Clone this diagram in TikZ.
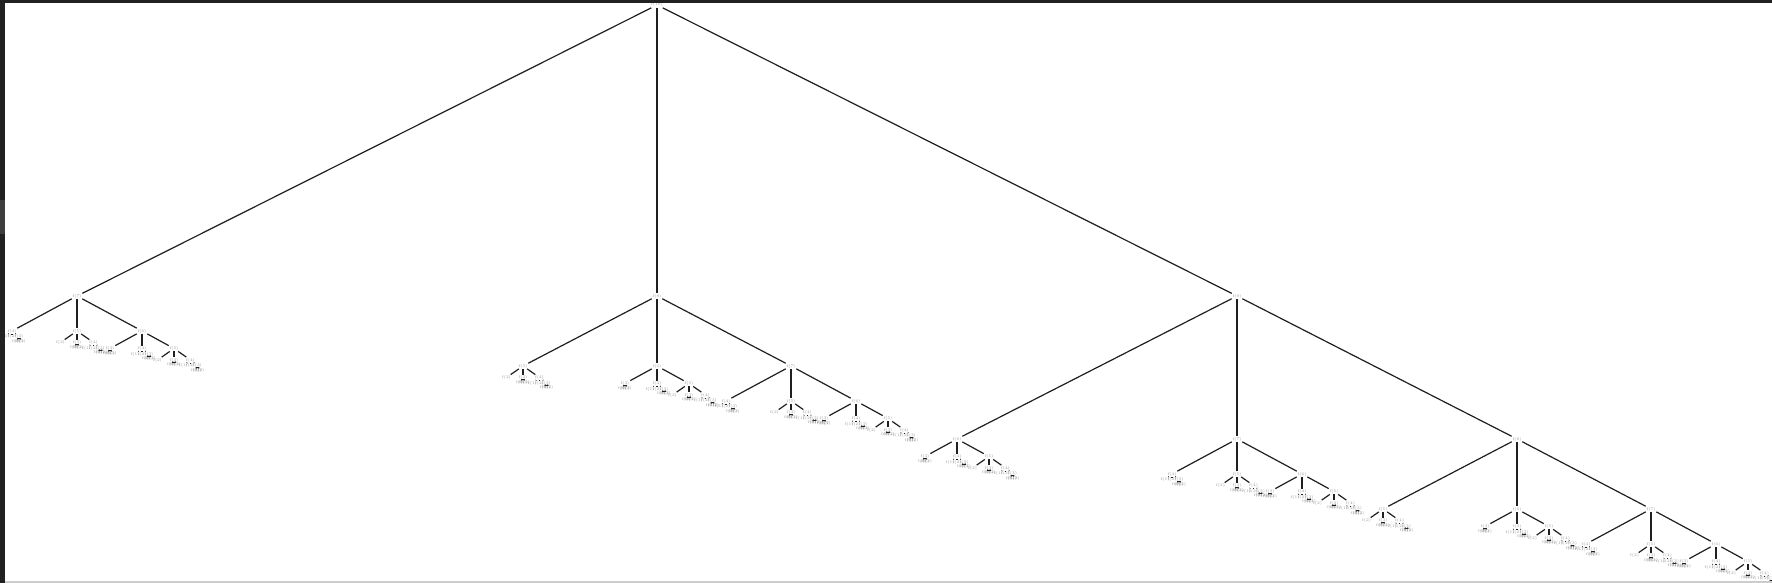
\documentclass[tikz,border=0pt]{standalone}
\tikzset{
  lbl/.style={inner sep=0.25pt, font=\fontsize{2}{2.2}\selectfont, text=black!40},
  edge/.style={line width=0.6pt, draw=black!88}
}
\def\spreadtab#1{\ifcase#1 0\or 0\or 0\or 2.5\or 7\or 16.5\or 32\or 65\or 134\or 280\or 580\fi}
\def\droptab#1{\ifcase#1 0\or 0\or 0\or 4.5\or 5.5\or 11.5\or 17.5\or 35\or 70\or 143\or 291\fi}
\newcommand\mktree[4]{%
  \node[lbl] (#1) at (#3,#4) {f(#2)};%
  \ifnum#2>2\relax
    \begingroup
      \edef\tsp{\spreadtab{#2}}\edef\tdr{\droptab{#2}}%
      \pgfmathsetmacro\cxl{#3-\tsp}%
      \pgfmathsetmacro\cxr{#3+\tsp}%
      \pgfmathsetmacro\cy{#4+\tdr}%
      \edef\next{%
        \noexpand\mktree{#1a}{\the\numexpr#2-3\relax}{\cxl}{\cy}%
        \noexpand\mktree{#1b}{\the\numexpr#2-2\relax}{#3}{\cy}%
        \noexpand\mktree{#1c}{\the\numexpr#2-1\relax}{\cxr}{\cy}%
        \noexpand\draw[edge] (#1) -- (#1a);%
        \noexpand\draw[edge] (#1) -- (#1b);%
        \noexpand\draw[edge] (#1) -- (#1c);%
      }\next
    \endgroup
  \fi}
\begin{document}
\begin{tikzpicture}[x=0.5pt,y=-0.5pt]
  \fill[white] (0,0) rectangle (1772,583);
  \useasboundingbox (0,0) rectangle (1772,583);
  \mktree{r}{10}{657}{5}
  \fill[black!87] (0,0) rectangle (1772,3.5);
  \fill[black!87] (0,0) rectangle (5,583);
  \fill[black!76] (0,200) rectangle (5,234);
  \fill[black!20] (5,581) rectangle (1772,583);
\end{tikzpicture}
\end{document}
